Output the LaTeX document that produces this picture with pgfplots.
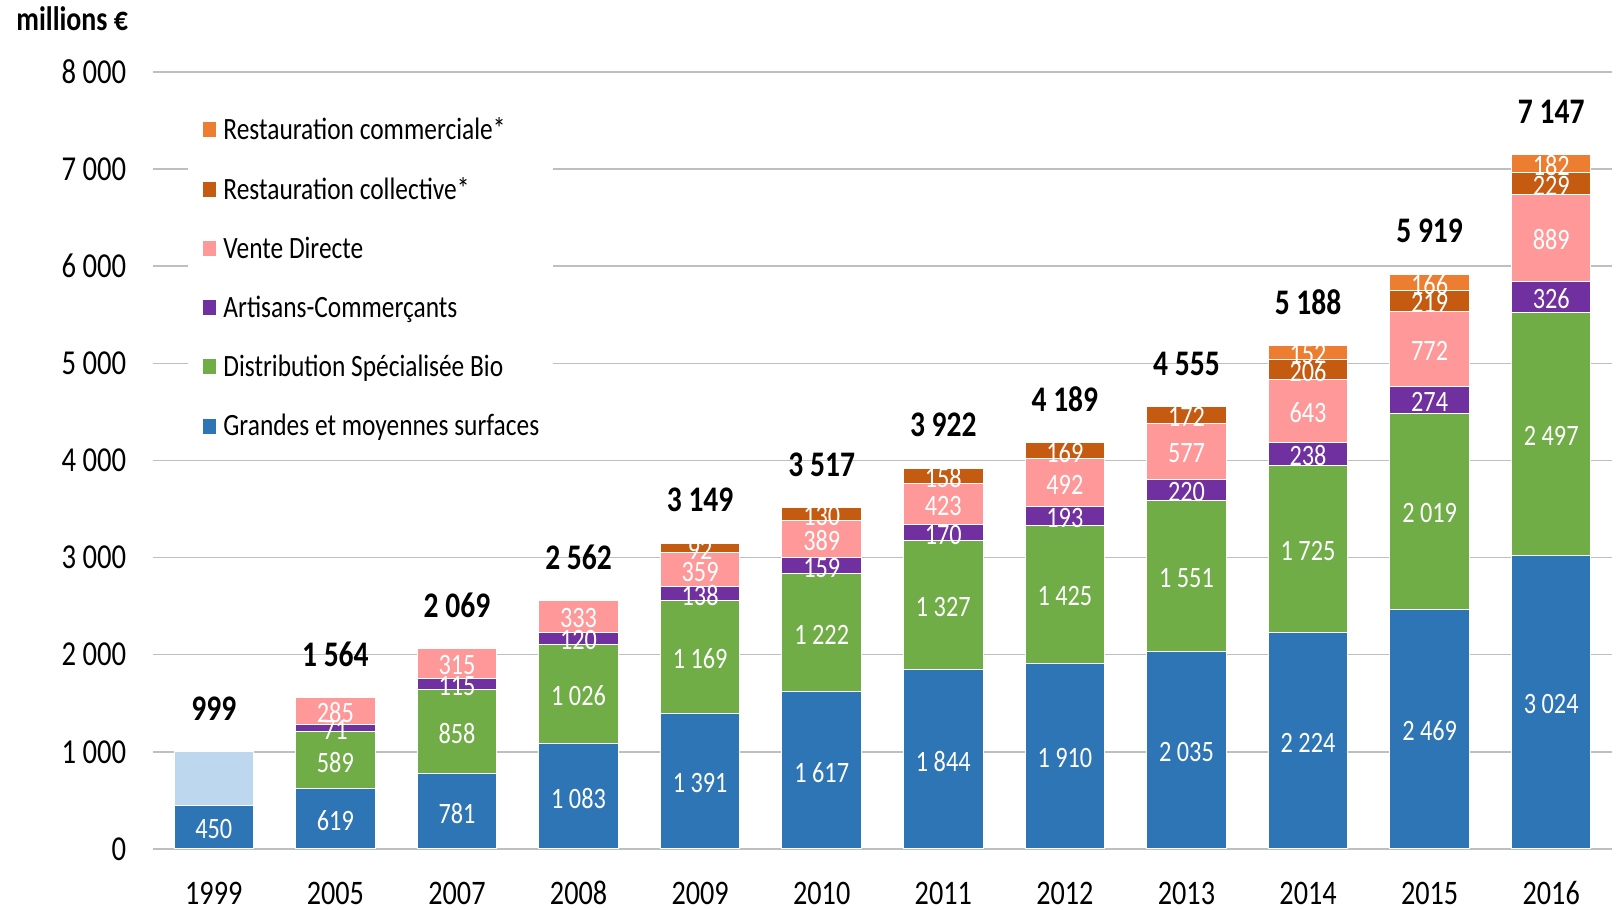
\documentclass[border=0pt]{standalone}
\usepackage{pgfplots}
\pgfplotsset{compat=1.18}
\usepackage{pgfplotstable}
\usepackage{fontspec}
\setmainfont{Carlito}[FakeStretch=0.82]
\definecolor{cGMS}{HTML}{2E75B6}
\definecolor{cLight}{HTML}{BDD7EE}
\definecolor{cDSB}{HTML}{70AD47}
\definecolor{cArt}{HTML}{7030A0}
\definecolor{cVD}{HTML}{FF9999}
\definecolor{cRColl}{HTML}{C55A11}
\definecolor{cRComm}{HTML}{ED7D31}
\definecolor{cGrid}{HTML}{BFBFBF}

\pgfplotstableread{
x gms light dsb art vd rcoll rcomm total
0 450 549 0 0 0 0 0 999
1 619 0 589 71 285 0 0 1564
2 781 0 858 115 315 0 0 2069
3 1083 0 1026 120 333 0 0 2562
4 1391 0 1169 138 359 92 0 3149
5 1617 0 1222 159 389 130 0 3517
6 1844 0 1327 170 423 158 0 3922
7 1910 0 1425 193 492 169 0 4189
8 2035 0 1551 220 577 172 0 4555
9 2224 0 1725 238 643 206 152 5188
10 2469 0 2019 274 772 219 166 5919
11 3024 0 2497 326 889 229 182 7147
}\data

\pgfplotsset{
  seg/.style={
    fill=#1, draw=white, line width=0.5pt,
    point meta=explicit,
    nodes near coords={\pgfmathfloatifflags{\pgfplotspointmeta}{0}{}{\pgfmathprintnumber{\pgfplotspointmeta}}},
    every node near coord/.append style={anchor=center, inner sep=0pt, text=white,
      yshift=-1pt, font=\fontsize{14.8}{14.8}\selectfont},
  },
  common/.style={
    scale only axis,
    width=729.5pt, height=388.5pt,
    xmin=-0.5, xmax=11.5, ymin=0, ymax=8000,
    enlargelimits=false,
    /pgf/number format/assume math mode=true,
    /pgf/number format/1000 sep={\ },
  },
}

\begin{document}
\begin{tikzpicture}
\begin{axis}[
  common,
  ybar stacked, bar width=39.75pt,
  xtick=data,
  xticklabels={1999,2005,2007,2008,2009,2010,2011,2012,2013,2014,2015,2016},
  ytick={0,1000,...,8000},
  major tick length=0pt,
  axis line style={draw=none},
  ymajorgrids, grid style={draw=cGrid, line width=0.75pt},
  xticklabel style={font=\fontsize{17.2}{17.2}\selectfont, anchor=base, inner sep=0pt, yshift=-27.8pt},
  yticklabel style={font=\fontsize{17.5}{17.5}\selectfont, anchor=east, inner sep=0pt, xshift=-13.2pt},
  reverse legend,
  legend cell align=left,
  legend image code/.code={\fill[#1] (0pt,-4pt) rectangle (7.2pt,4pt);},
  legend style={at={(axis cs:-0.215,7680)}, anchor=north west, draw=none, fill=white,
    inner sep=7pt, row sep=17.3pt, column sep=3pt,
    font=\fontsize{15.5}{15.5}\selectfont, nodes={inner sep=0pt}},
]
\addplot[seg=cGMS] table[x=x, y=gms, meta=gms] {\data};
\addlegendentry{Grandes et moyennes surfaces}
\addplot[forget plot, fill=cLight, draw=white, line width=0.5pt] table[x=x, y=light] {\data};
\addplot[seg=cDSB] table[x=x, y=dsb, meta=dsb] {\data};
\addlegendentry{Distribution Spécialisée Bio}
\addplot[seg=cArt] table[x=x, y=art, meta=art] {\data};
\addlegendentry{Artisans-Commerçants}
\addplot[seg=cVD] table[x=x, y=vd, meta=vd] {\data};
\addlegendentry{Vente Directe}
\addplot[seg=cRColl] table[x=x, y=rcoll, meta=rcoll] {\data};
\addlegendentry{Restauration collective*}
\addplot[seg=cRComm] table[x=x, y=rcomm, meta=rcomm] {\data};
\addlegendentry{Restauration commerciale*}
\end{axis}
\begin{axis}[common, hide axis]
\addplot[draw=none, mark=none, point meta=explicit,
  nodes near coords,
  every node near coord/.append style={anchor=center, inner sep=0pt, yshift=21.5pt,
    font=\bfseries\fontsize{18}{18}\selectfont, text=black}]
  table[x=x, y=total, meta=total] {\data};
\end{axis}
\node[anchor=west, inner sep=0pt, font=\bfseries\fontsize{17}{17}\selectfont]
  at ([xshift=-68.5pt, yshift=26.7pt]current axis.north west) {millions €};
\pgfresetboundingbox
\path ([shift={(-76.5pt,-30.5pt)}]current axis.south west) rectangle ([shift={(3pt,36pt)}]current axis.north east);
\end{tikzpicture}
\end{document}
